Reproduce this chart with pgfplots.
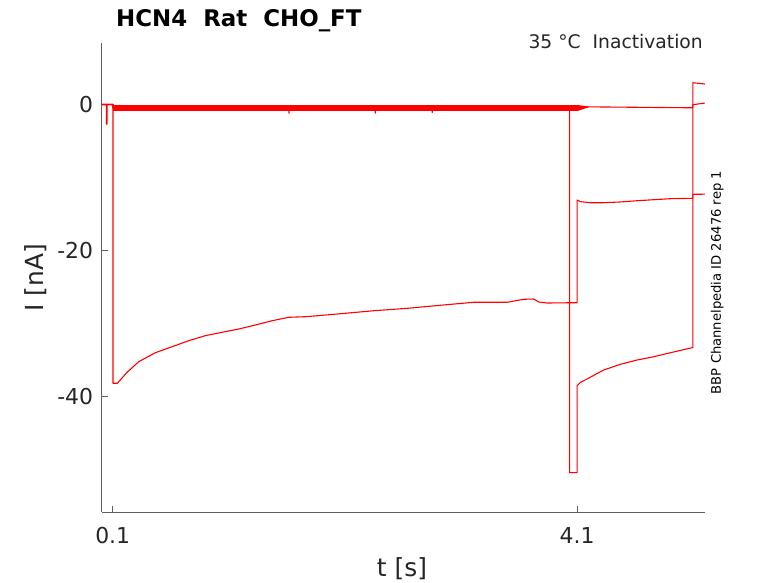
\documentclass[border=0pt]{standalone}
\usepackage{fontspec}
\setmainfont{DejaVu Sans}
\usepackage{pgfplots}
\pgfplotsset{compat=1.18}
\definecolor{txt}{RGB}{38,38,38}
\definecolor{axc}{RGB}{95,95,95}
\begin{document}
\begin{tikzpicture}[x=1bp,y=1bp]
\useasboundingbox (-101.7,-71) rectangle (676.3,512);
\begin{axis}[at={(0,0)},anchor=south west,
  scale only axis, width=603.3bp, height=469bp,
  xmin=0.005, xmax=5.202, ymin=-55.9, ymax=8.44,
  axis x line=bottom, axis y line=left,
  axis line style={-, axc, line width=0.75bp},
  tick align=inside, major tick length=6bp,
  tick style={axc, line width=0.75bp},
  xtick={0.1,4.1}, xticklabels={0.1,4.1},
  ytick={-40,-20,0}, yticklabels={-40,-20,{0\hspace{16bp}}},
  xticklabel style={font=\fontsize{22}{22}\selectfont, text=txt, inner sep=0pt, anchor=north, yshift=-15bp},
  yticklabel style={font=\fontsize{22}{22}\selectfont, text=txt, inner sep=0pt, anchor=east, xshift=-8.4bp},
  every axis plot/.append style={no markers, line join=round},
]
% trace 1
\addplot[red, line width=1.1bp] coordinates {
(0,0) (0.102,0) (0.102,-38.24) (0.140,-38.24) (0.22,-36.8) (0.324,-35.28) (0.468,-34.05) (0.612,-33.22)
(0.755,-32.40) (0.898,-31.71) (1.042,-31.25) (1.185,-30.80) (1.329,-30.25) (1.473,-29.66)
(1.616,-29.19) (1.760,-29.11) (1.904,-28.92) (2.104,-28.64) (2.348,-28.29) (2.636,-27.96)
(2.923,-27.54) (3.209,-27.13) (3.497,-27.13) (3.640,-26.72) (3.726,-26.68) (3.769,-27.09)
(3.842,-27.23) (4.071,-27.19) (4.100,-27.19) (4.100,-13.10) (4.129,-13.33) (4.215,-13.47)
(4.329,-13.47) (4.473,-13.37) (4.617,-13.20) (4.760,-13.06) (4.904,-12.92) (5.097,-12.87)
(5.097,-12.32) (5.2,-12.3)
};
% trace 2
\addplot[red, line width=1.1bp] coordinates {
(0,0) (0.102,0) (0.102,-0.45) (4.036,-0.45) (4.036,-50.5) (4.1,-50.5) (4.1,-38.6) (4.13,-38.1)
(4.186,-37.65) (4.329,-36.42) (4.473,-35.64) (4.617,-35.05) (4.760,-34.60) (4.904,-34.05)
(5.091,-33.36) (5.097,-33.36) (5.097,2.99) (5.2,2.81)
};
% trace 3
\addplot[red, line width=1.1bp] coordinates {
(0,0) (0.046,0) (0.046,-2.7) (0.052,-2.7) (0.052,0) (0.102,0) (0.102,-0.45)
(1.616,-0.45) (1.618,-1.2) (1.62,-0.45) (2.36,-0.45) (2.362,-1.2) (2.364,-0.45)
(2.85,-0.45) (2.852,-1.1) (2.854,-0.45) (4.1,-0.45) (4.2,-0.32) (4.6,-0.38) (5.097,-0.45)
(5.097,-0.03) (5.2,0.2)
};
% noise band of the baseline sweeps
\addplot[red, line width=6bp] coordinates {(0.102,-0.48) (4.1,-0.48)};
\addplot[red, fill=red, draw=none] coordinates {(4.1,-0.05) (4.2,-0.28) (4.2,-0.38) (4.1,-0.9)};
\end{axis}
\node[anchor=base west, inner sep=0pt, font=\bfseries\fontsize{23}{23}\selectfont] at (14.3,485.5) {HCN4\ \ Rat\ \ CHO\_FT};
\node[anchor=base east, inner sep=0pt, text=txt, font=\fontsize{18.8}{18.8}\selectfont] at (601.3,463.5) {35 °C\ \ Inactivation};
\node[rotate=90, inner sep=0pt, text=black, font=\fontsize{13.2}{13.2}\selectfont] at (615.5,229.5) {BBP Channelpedia ID 26476 rep 1};
\node[rotate=90, inner sep=0pt, text=txt, font=\fontsize{25}{25}\selectfont] at (-65.7,234.5) {I [nA]};
\node[anchor=base, inner sep=0pt, text=txt, font=\fontsize{25}{25}\selectfont] at (300.3,-65) {t [s]};
\end{tikzpicture}
\end{document}
